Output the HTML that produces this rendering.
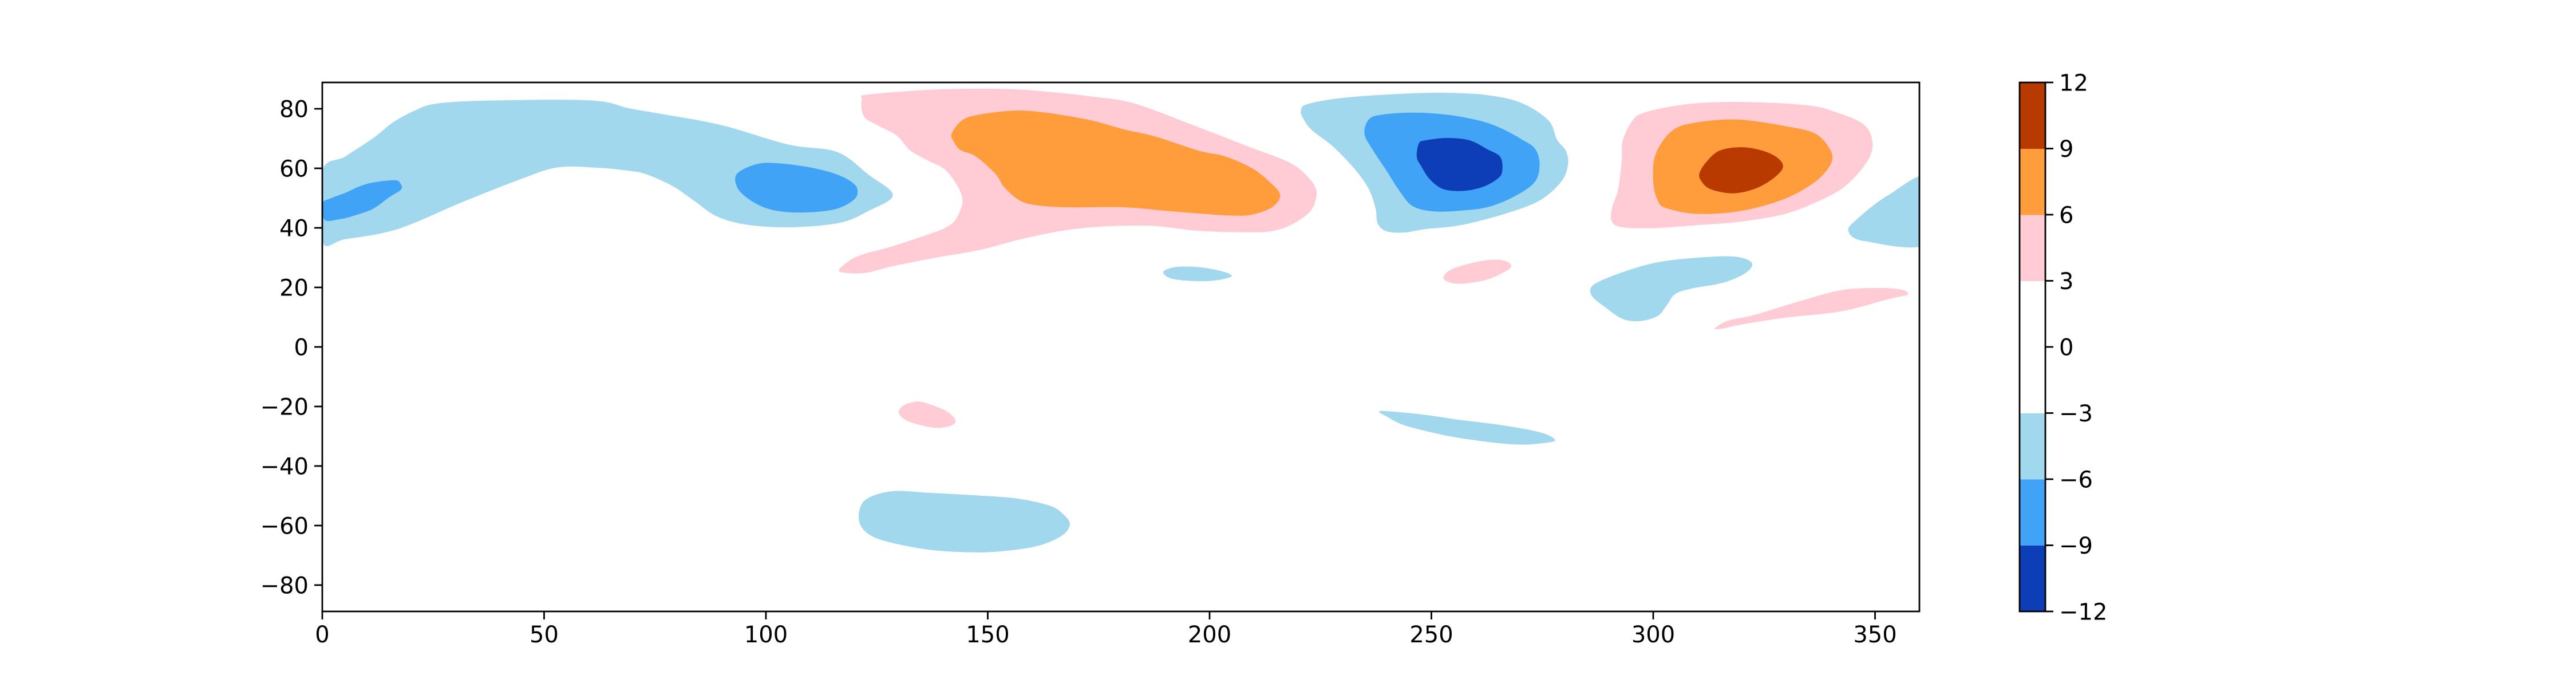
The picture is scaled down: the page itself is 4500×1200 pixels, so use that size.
<!DOCTYPE html>
<html><head><meta charset="utf-8">
<style>
html,body{margin:0;padding:0;background:#fff;}
svg{display:block;font-family:"DejaVu Sans","Liberation Sans",sans-serif;}
</style></head>
<body>
<svg id="chart" width="4500" height="1200" viewBox="0 0 4500 1200" xmlns="http://www.w3.org/2000/svg">
<rect x="0" y="0" width="4500" height="1200" fill="#fff"/>
<defs><clipPath id="plotclip"><rect x="563" y="144" width="2790" height="924"/></clipPath></defs>
<g id="fills" clip-path="url(#plotclip)"></g>
<g id="axes"></g>
<g id="cbar"></g>
</svg>
<script>
// ---- axis ranges ----
const xDomain = [0, 360];
const yDomain = [-88.85, 88.85];
const xTicks = [0, 50, 100, 150, 200, 250, 300, 350];
const yTicks = [-80, -60, -40, -20, 0, 20, 40, 60, 80];
const levels = [-12, -9, -6, -3, 0, 3, 6, 9, 12];
const levelColors = ["#0d3eb8", "#41a3f6", "#a1d8ee", "#ffffff", "#ffffff", "#ffccd5", "#ff9d3d", "#b93a00"];

// ---- contour regions: [lon, lat] ----
const bandWestLight = [[0,59],[5.2,64],[11.7,70.4],[16,75.5],[21,79.5],[26,81.8],[38.5,82.8],[60.7,82.8],[69,80.2],[75.5,78.5],[90,74.5],[105,68],[116,65.5],[123,58],[128.6,51],[123,45.6],[116.6,41.7],[105.6,40.2],[95.9,41],[89,43.8],[84,48.9],[79,54],[73,58],[69,59.2],[62,60.2],[53,60.3],[44.6,56.3],[31.5,48.6],[17,39.6],[5.2,36.2],[0,35.5]];
const eastEdgeLight = [[362,57],[353,51],[346,43],[344,38.9],[347.8,35.5],[362,35]];
const westMedBlue = [[0.1,48.3],[1.9,49.9],[5.2,51.8],[8.5,54],[11.7,55.3],[16.4,56],[17.7,54.7],[17.7,52.8],[15,50.2],[12.4,47.3],[10.4,45.7],[6.5,43.8],[3.9,42.9],[0.5,42.7]];
const lon100MedBlue = [[93.5,58.2],[97.9,61.4],[102.8,61.7],[110.7,60.1],[116.6,57.6],[120.1,54.4],[120.6,51.2],[119.1,48.6],[115.7,46.3],[110.7,45.3],[104.8,45.3],[99.9,46.7],[95.9,49.9],[93.5,53.7]];
const bigPink = [[121.6,83.2],[123.1,84.8],[138.4,86.5],[153.2,86.7],[163,85.8],[173,84.2],[182.8,81.9],[195.6,74.9],[209.5,66.9],[216,63.3],[220,60.1],[223.6,54.4],[224,49.9],[222.6,45.4],[219,41.5],[215.2,39.3],[210.5,38.5],[197.6,39],[187.7,40.6],[177.9,40.6],[168,39.3],[158.1,36.4],[148.3,32.6],[138.4,30],[128.5,27.1],[122.6,24.9],[117.7,24.9],[116.6,26.2],[120.6,30.4],[128.5,33.8],[136.4,37.7],[140.4,40],[142.8,42.9],[144.3,48.6],[143.3,53.7],[140.4,59.5],[136.4,62.7],[132.5,66],[129.5,71],[125.5,74.2],[122.1,77.4]];
const bigOrange = [[141.9,71.7],[144.3,76.2],[148.3,78.1],[156.1,79.4],[163.1,78.7],[173,76.2],[180.9,73],[187.7,70.7],[197.6,65.9],[203.5,64],[209.5,60.1],[213.4,55.6],[215.9,51.2],[214.4,47.3],[210.5,44.8],[205.5,44.1],[192.6,45.4],[180.9,46.9],[168,46.9],[161.1,47.6],[157.2,49.2],[153.7,53.7],[151.7,58.2],[147.3,64],[143.8,66.2],[142.3,69.1]];
const smallBlue200 = [[189.7,25.5],[192.6,26.9],[197.6,26.8],[202.6,25.5],[205,23.8],[201.6,22.4],[197.6,22.1],[192.6,22.6],[190.2,23.8]];
const lon250Light = [[220.6,79.3],[222.1,81.6],[230.9,83.8],[245.8,85.2],[255.6,85.3],[263.5,84.4],[270.4,81.9],[276.4,76.1],[278.3,69.7],[280.3,65.9],[280.8,61.4],[279.3,55.6],[274.4,49.2],[266.5,44.7],[256.6,40.9],[248.7,39.6],[243.8,38.4],[239.8,38.9],[237.9,41.5],[237.4,46.6],[235.9,53],[232.9,59.4],[228,67.1],[223,72.9],[221.1,76.8]];
const lon250Med = [[234.9,71.6],[235.9,76.4],[238.8,78],[245.8,78.7],[253.6,78],[260.6,76.1],[265.5,73.6],[270.4,69.7],[273.4,66.5],[274.4,61.4],[273.4,55.6],[269.4,51.1],[263.5,47.3],[257.6,45.9],[250.7,45.5],[245.8,47.3],[242.8,52.4],[239.8,59.4],[236.9,65.9]];
const lon250Dark = [[247.2,68.4],[248.7,69.4],[253.6,70.2],[258.6,69.4],[262.5,66.5],[265.5,63.9],[266,59.4],[265,56.6],[261.5,53.7],[257.1,52.4],[252.7,53],[249.7,56.2],[247.7,60.7],[246.7,63.9]];
const lon320Pink = [[295.1,75.5],[298,78.7],[307.9,81.6],[319.8,82.3],[334.6,81.2],[341.5,78.7],[347.4,74.8],[349.4,69.1],[348.4,62.7],[343.5,54.3],[337.6,49.2],[329.7,44.7],[319.8,42.1],[309.9,40.9],[300,39.9],[293.1,40.2],[290.7,42.1],[290.7,46.6],[292.1,53],[292.9,62.7],[293.1,69.1]];
const lon320Orange = [[300.5,64.6],[304,72.3],[308.9,75.2],[318.8,76.4],[329.7,74.2],[336.6,71.6],[340,65.9],[340,61.4],[336.6,55.6],[329.7,49.8],[319.8,45.7],[309.9,44.7],[303,46.6],[301,49.2],[300,55.6]];
const lon320Dark = [[310.4,58.2],[311.9,62],[314.9,65.9],[319.8,67.1],[324.7,65.9],[328.2,63.3],[329.2,60.1],[326.7,56.2],[322.7,53],[317.8,51.6],[312.9,53],[310.9,55.6]];
const smallPink260 = [[252.7,23.2],[254.6,26.1],[260.6,28.7],[264.5,29.3],[267,28.7],[268,27.1],[266.5,25.2],[262.5,22.6],[257.6,21.3],[254.6,21.5]];
const lon300Light = [[286.2,20.4],[290.2,23.5],[298,27.4],[305,29.3],[314.9,30.4],[319.8,30],[322.3,28],[320.8,24.8],[315.8,21.6],[308.9,19.7],[305,17.8],[303,13.9],[301,10.4],[297.1,8.7],[293.1,9.4],[289.2,13.3],[286.2,17.1]];
const streakPink = [[313.9,6.2],[316.8,8.8],[322.7,10.7],[332.6,15.2],[342.5,19.1],[351.4,19.8],[356.3,19.1],[357.3,17.5],[353.4,16.2],[342.5,12],[329.7,9.8],[319.8,7.5],[315.8,6.2]];
const southPink = [[130,-21.3],[131.3,-19.4],[134.3,-18.3],[137.2,-19.4],[140.7,-21.6],[142.6,-24.2],[142.2,-26.1],[139.2,-27.2],[135.7,-26.6],[131.8,-24.8],[130.2,-22.9]];
const southBlue = [[120.9,-57.2],[122.4,-51.4],[128.3,-48.5],[136.7,-49],[146.6,-49.8],[156.5,-50.9],[163.9,-53.3],[166.8,-55.9],[168.5,-59.4],[166.8,-63.3],[161.4,-66.8],[154,-68.5],[146.6,-69],[136.7,-68.1],[126.8,-65.2],[122.4,-62]];
const southStreakBlue = [[238.3,-21.6],[243.5,-22],[250,-23.1],[256.4,-24.5],[265,-26.1],[271.5,-27.7],[275.8,-29.3],[277.9,-31.4],[275.3,-32.3],[270.6,-32.8],[265,-32.3],[256.4,-30.6],[250,-28.7],[243.5,-26.1],[240.1,-23.5]];

const regions = [
  ["band-west-light", bandWestLight, 2],
  ["east-edge-light", eastEdgeLight, 2],
  ["west-med-blue", westMedBlue, 1],
  ["lon100-med-blue", lon100MedBlue, 1],
  ["big-pink", bigPink, 5],
  ["big-orange", bigOrange, 6],
  ["small-blue-200", smallBlue200, 2],
  ["lon250-light-blue", lon250Light, 2],
  ["lon250-med-blue", lon250Med, 1],
  ["lon250-dark-blue", lon250Dark, 0],
  ["lon320-pink", lon320Pink, 5],
  ["lon320-orange", lon320Orange, 6],
  ["lon320-dark-orange", lon320Dark, 7],
  ["small-pink-260", smallPink260, 5],
  ["lon300-light-blue", lon300Light, 2],
  ["streak-pink", streakPink, 5],
  ["south-pink", southPink, 5],
  ["south-blue", southBlue, 2],
  ["south-streak-blue", southStreakBlue, 2]
];

// ---- axis functions ----
const PL = 563, PR = 3353, PT = 144, PB = 1068;
function xs(v){ return PL + (v - xDomain[0]) / (xDomain[1] - xDomain[0]) * (PR - PL); }
function ys(v){ return PB - (v - yDomain[0]) / (yDomain[1] - yDomain[0]) * (PB - PT); }
const NS = "http://www.w3.org/2000/svg";
function mk(tag, attrs, parent){ const e = document.createElementNS(NS, tag); for (const k in attrs) e.setAttribute(k, attrs[k]); parent.appendChild(e); return e; }

function smoothPath(pts){
  const p = pts.map(d => [xs(d[0]), ys(d[1])]);
  const n = p.length;
  let d = "M" + p[0][0].toFixed(1) + "," + p[0][1].toFixed(1);
  for (let i = 0; i < n; i++){
    const p0 = p[(i - 1 + n) % n], p1 = p[i], p2 = p[(i + 1) % n], p3 = p[(i + 2) % n];
    const c1 = [p1[0] + (p2[0] - p0[0]) / 6, p1[1] + (p2[1] - p0[1]) / 6];
    const c2 = [p2[0] - (p3[0] - p1[0]) / 6, p2[1] - (p3[1] - p1[1]) / 6];
    d += "C" + c1[0].toFixed(1) + "," + c1[1].toFixed(1) + " " + c2[0].toFixed(1) + "," + c2[1].toFixed(1) + " " + p2[0].toFixed(1) + "," + p2[1].toFixed(1);
  }
  return d + "Z";
}

const fills = document.getElementById("fills");
regions.forEach(r => {
  const el = mk("path", {d: smoothPath(r[1]), fill: levelColors[r[2]]}, fills);
  
  
});

// ---- axes ----
const axes = document.getElementById("axes");
const frame = mk("rect", {x: PL, y: PT, width: PR - PL, height: PB - PT, fill: "none", stroke: "#000", "stroke-width": 2.8}, axes);


const TL = 14, FS = 40;
xTicks.forEach(t => {
  const x = xs(t);
  const tk = mk("line", {x1: x, y1: PB, x2: x, y2: PB + TL, stroke: "#000", "stroke-width": 2.8}, axes);
  
  
  const lb = mk("text", {x: x, y: PB + TL + 10 + FS * 0.75, "font-size": FS, "text-anchor": "middle", fill: "#000"}, axes);
  lb.textContent = String(t);
  
  
});
yTicks.forEach(t => {
  const y = ys(t);
  const tk = mk("line", {x1: PL - TL, y1: y, x2: PL, y2: y, stroke: "#000", "stroke-width": 2.8}, axes);
  
  
  const lb = mk("text", {x: PL - TL - 10, y: y + FS * 0.36, "font-size": FS, "text-anchor": "end", fill: "#000"}, axes);
  lb.textContent = t < 0 ? "\u2212" + Math.abs(t) : String(t);
  
  
});

// ---- colorbar ----
const cb = document.getElementById("cbar");
const CL = 3528, CR = 3573, CT = 144, CB = 1068;
function cy(v){ return CB - (v - levels[0]) / (levels[levels.length - 1] - levels[0]) * (CB - CT); }
for (let i = 0; i < levelColors.length; i++){
  const r = mk("rect", {x: CL, y: cy(levels[i + 1]), width: CR - CL, height: cy(levels[i]) - cy(levels[i + 1]) + 0.5, fill: levelColors[i]}, cb);
  
  
}
const cf = mk("rect", {x: CL, y: CT, width: CR - CL, height: CB - CT, fill: "none", stroke: "#000", "stroke-width": 2.8}, cb);


levels.forEach(v => {
  const y = cy(v);
  const tk = mk("line", {x1: CR, y1: y, x2: CR + TL, y2: y, stroke: "#000", "stroke-width": 2.8}, cb);
  
  
  const lb = mk("text", {x: CR + TL + 10, y: y + FS * 0.36, "font-size": FS, "text-anchor": "start", fill: "#000"}, cb);
  lb.textContent = v < 0 ? "\u2212" + Math.abs(v) : String(v);
  
  
});
</script>
</body></html>
